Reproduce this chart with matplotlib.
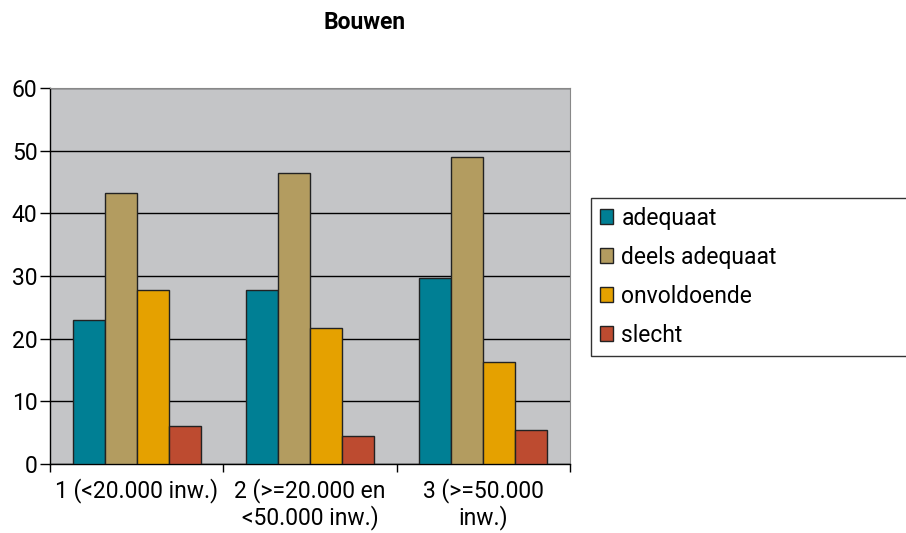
import matplotlib
matplotlib.use('Agg')
import matplotlib.pyplot as plt
import numpy as np

plt.rcParams['font.family'] = 'Roboto'
plt.rcParams['font.size'] = 16.5

categories = ['1 (<20.000 inw.)', '2 (>=20.000 en\n<50.000 inw.)', '3 (>=50.000\ninw.)']
series = ['adequaat', 'deels adequaat', 'onvoldoende', 'slecht']
adequaat = [23.0, 27.7, 29.7]
deels_adequaat = [43.2, 46.4, 49.0]
onvoldoende = [27.7, 21.7, 16.3]
slecht = [6.1, 4.5, 5.4]
values = [adequaat, deels_adequaat, onvoldoende, slecht]
colors = ['#007F94', '#B39C60', '#E5A100', '#BD4B30']

fig = plt.figure(figsize=(9.06, 5.33), dpi=100)
ax = fig.add_axes([50/906, 1-464/533, 520/906, (464-88)/533])
ax.set_facecolor('#C4C5C7')

x = np.arange(len(categories))
w = 0.185
for i, (name, vals) in enumerate(zip(series, values)):
    ax.bar(x + (i - 1.5) * w, vals, w, color=colors[i], edgecolor='#222222',
           linewidth=1, label=name, zorder=3)

ax.set_xlim(-0.5, 2.5)
ax.set_ylim(0, 60)
ax.set_yticks(range(0, 61, 10))
ax.yaxis.grid(True, color='black', linewidth=1, zorder=1)
ax.set_axisbelow(True)

# category boundaries get the tick marks, labels sit in between
ax.set_xticks([-0.5, 0.5, 1.5, 2.5])
ax.set_xticklabels([])
ax.set_xticks(x, minor=True)
ax.set_xticklabels(categories, minor=True, linespacing=1.1)
ax.tick_params(axis='x', which='minor', length=0, pad=10)
ax.tick_params(axis='x', which='major', length=6, width=1, direction='out')
ax.tick_params(axis='y', length=7, width=1, direction='out', pad=2)

for s in ['top', 'right']:
    ax.spines[s].set_color('#888888')
for s in ['left', 'bottom']:
    ax.spines[s].set_color('black')
    ax.spines[s].set_linewidth(1)

fig.text(365/906, 1-22/533, 'Bouwen', ha='center', va='center',
         fontsize=16.5, fontweight='bold')

leg = fig.legend(loc='upper left', bbox_to_anchor=(591/906, 1-198/533, 0.4, 0.0),
                 mode='expand', frameon=True, fancybox=False, edgecolor='black',
                 handlelength=0.6, handleheight=0.6, handletextpad=0.35,
                 labelspacing=0.7, borderaxespad=0, borderpad=0.38, fontsize=16.5)
leg.get_frame().set_linewidth(1)

fig.savefig('out.png', dpi=100)
